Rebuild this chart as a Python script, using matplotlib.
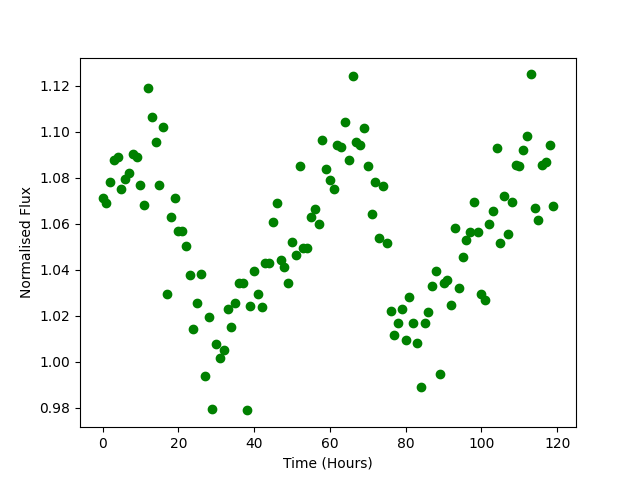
import matplotlib
matplotlib.use("Agg")
import matplotlib.pyplot as plt
import numpy as np

hours = list(range(120))
flux = [
    1.0713, 1.0689, 1.0784, 1.0877, 1.0890, 1.0751, 1.0794, 1.0823, 1.0906, 1.0893,
    1.0771, 1.0684, 1.1193, 1.1063, 1.0958, 1.0771, 1.1023, 1.0297, 1.0632, 1.0712,
    1.0567, 1.0567, 1.0502, 1.0376, 1.0145, 1.0258, 1.0384, 0.9937, 1.0193, 0.9797,
    1.0076, 1.0019, 1.0050, 1.0228, 1.0151, 1.0258, 1.0341, 1.0345, 0.9789, 1.0245,
    1.0393, 1.0297, 1.0237, 1.0432, 1.0428, 1.0610, 1.0689, 1.0441, 1.0413, 1.0345,
    1.0523, 1.0463, 1.0850, 1.0497, 1.0497, 1.0628, 1.0663, 1.0600, 1.0963, 1.0837,
    1.0789, 1.0750, 1.0942, 1.0936, 1.1045, 1.0876, 1.1241, 1.0955, 1.0941, 1.1019,
    1.0850, 1.0645, 1.0784, 1.0540, 1.0763, 1.0516, 1.0223, 1.0119, 1.0167, 1.0228,
    1.0093, 1.0280, 1.0167, 1.0080, 0.9889, 1.0167, 1.0219, 1.0328, 1.0397, 0.9947,
    1.0345, 1.0354, 1.0249, 1.0580, 1.0323, 1.0458, 1.0532, 1.0563, 1.0693, 1.0563,
    1.0294, 1.0267, 1.0600, 1.0654, 1.0928, 1.0519, 1.0723, 1.0554, 1.0693, 1.0854,
    1.0850, 1.0923, 1.0984, 1.1250, 1.0667, 1.0619, 1.0858, 1.0867, 1.0945, 1.0677,
]

fig = plt.figure(figsize=(6.4, 4.8), dpi=100)
plt.plot(hours, flux, 'o', color='green')
plt.xlabel('Time (Hours)')
plt.ylabel('Normalised Flux')
plt.savefig('out.png')
